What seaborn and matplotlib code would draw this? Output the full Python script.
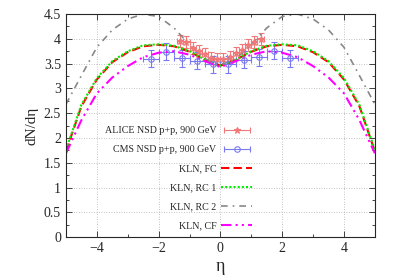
import numpy as np
import pandas as pd
import seaborn as sns
import matplotlib.pyplot as plt
from matplotlib.legend_handler import HandlerErrorbar
from matplotlib.container import ErrorbarContainer

# model curves (symmetric in eta)
eta_half = [-5.0, -4.5, -4.0, -3.5, -3.0, -2.5, -2.0, -1.5, -1.0, -0.5, 0.0]
fc_half = [1.73, 2.64, 3.18, 3.53, 3.73, 3.85, 3.88, 3.85, 3.74, 3.58, 3.46]
rc1_half = [1.76, 2.67, 3.21, 3.55, 3.75, 3.87, 3.89, 3.86, 3.75, 3.58, 3.46]
rc2_half = [2.68, 3.26, 3.83, 4.18, 4.40, 4.50, 4.45, 4.22, 3.88, 3.60, 3.48]
cf_half = [1.69, 2.36, 2.90, 3.22, 3.45, 3.63, 3.72, 3.75, 3.68, 3.55, 3.43]

eta = eta_half + [-e for e in eta_half[-2::-1]]
fc = fc_half + fc_half[-2::-1]
rc1 = rc1_half + rc1_half[-2::-1]
rc2 = rc2_half + rc2_half[-2::-1]
cf = cf_half + cf_half[-2::-1]

# ALICE NSD p+p 900 GeV
alice_eta = [-1.3, -1.1, -0.9, -0.7, -0.5, -0.3, -0.1, 0.1, 0.3, 0.5, 0.7, 0.9, 1.1, 1.3]
alice_val = [3.96, 3.94, 3.81, 3.75, 3.69, 3.62, 3.60, 3.60, 3.64, 3.72, 3.77, 3.88, 3.93, 4.00]
alice_err = 0.12
# CMS NSD p+p 900 GeV
cms_eta = [-2.25, -1.75, -1.25, -0.75, -0.25, 0.25, 0.75, 1.25, 1.75, 2.25]
cms_val = [3.60, 3.74, 3.61, 3.56, 3.49, 3.49, 3.58, 3.63, 3.76, 3.61]
cms_err = 0.17

sns.set_style("ticks")
plt.rcParams['font.family'] = ['Liberation Serif', 'DejaVu Serif']

fig = plt.figure(figsize=(3.95, 2.76), dpi=100)
ax = fig.add_axes([0.167, 0.141, 0.782, 0.808])

alice_style = dict(fmt='*', color='#f07878', ms=5, mew=0.8, elinewidth=0.8, capsize=2)
cms_style = dict(fmt='o', color='#7a7af0', mfc='none', ms=4, mew=0.8, elinewidth=0.8, capsize=2)
ax.errorbar(alice_eta, alice_val, xerr=0.1, yerr=alice_err, **alice_style)
ax.errorbar(cms_eta, cms_val, xerr=0.25, yerr=cms_err, **cms_style)
# legend-only handles (horizontal bar with caps)
ax.errorbar([np.nan], [np.nan], xerr=[1], label='ALICE NSD p+p, 900 GeV', **alice_style)
ax.errorbar([np.nan], [np.nan], xerr=[1], label='CMS NSD p+p, 900 GeV', **cms_style)

sns.lineplot(x=eta, y=fc, ax=ax, color='#ff0000', lw=1.5, label='KLN, FC',
             linestyle=(0, (4, 2)))
sns.lineplot(x=eta, y=rc1, ax=ax, color='#00ee00', lw=1.5, label='KLN, RC 1',
             linestyle=(0, (1, 1)))
sns.lineplot(x=eta, y=rc2, ax=ax, color='#888888', lw=1.2, label='KLN, RC 2',
             linestyle=(0, (4, 3, 1, 3)))
sns.lineplot(x=eta, y=cf, ax=ax, color='#ff00ff', lw=1.5, label='KLN, CF',
             linestyle=(0, (5, 2, 1, 2, 1, 2)))

ax.set_xlim(-5, 5)
ax.set_ylim(0, 4.5)
ax.set_xticks([-4, -2, 0, 2, 4])
ax.set_xticks([-3, -1, 1, 3], minor=True)
ax.set_yticks(np.arange(0, 4.6, 0.5))
ax.set_yticks(np.arange(0.25, 4.5, 0.5), minor=True)
ax.set_yticklabels(['0', '0.5', '1', '1.5', '2', '2.5', '3', '3.5', '4', '4.5'])
ax.tick_params(direction='in', top=True, right=True, labelsize=10, length=4, width=0.6)
ax.tick_params(which='minor', direction='in', top=True, right=True, length=2, width=0.6)
ax.grid(True, which='major', color='#b0b0b0', linestyle=(0, (1, 2)), lw=0.6)
for s in ax.spines.values():
    s.set_linewidth(0.8)

ax.set_xlabel('η', fontsize=13, labelpad=2)
ax.set_ylabel('dN/dη', fontsize=11, labelpad=4)

h, l = ax.get_legend_handles_labels()
order = [l.index(n) for n in ['ALICE NSD p+p, 900 GeV', 'CMS NSD p+p, 900 GeV',
                              'KLN, FC', 'KLN, RC 1', 'KLN, RC 2', 'KLN, CF']]
ax.legend([h[i] for i in order], [l[i] for i in order], loc='lower right',
          bbox_to_anchor=(0.632, -0.01), frameon=False, markerfirst=False,
          fontsize=7.2, labelspacing=1.0, handlelength=3.1, handletextpad=0.5,
          handler_map={ErrorbarContainer: HandlerErrorbar(xerr_size=1.3)})

fig.savefig('out.png', dpi=100)
